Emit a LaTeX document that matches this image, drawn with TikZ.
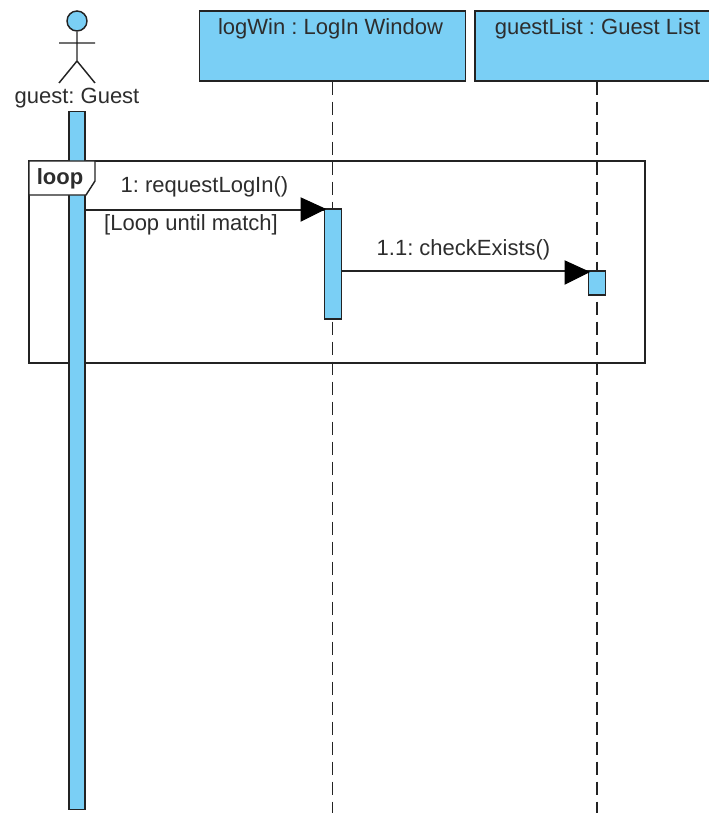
\documentclass[tikz,border=0pt]{standalone}
\usepackage{fontspec}
\setmainfont{Liberation Sans}
\frenchspacing
\definecolor{lifeblue}{RGB}{122,207,245}
\definecolor{lbltext}{RGB}{45,45,45}
\definecolor{linedark}{RGB}{35,35,35}
\tikzset{
  box/.style={draw=linedark,fill=lifeblue,line width=1.1pt,inner sep=0pt},
  lifeline/.style={draw=linedark,dash pattern=on 10pt off 5pt,line width=1.1pt},
  lbl/.style={inner sep=0pt,text=lbltext,font=\fontsize{16.5}{18}\selectfont},
  msg/.style={draw=linedark,line width=1.1pt},
  tip/.style={fill=black,draw=black,line width=0.75pt}
}
\begin{document}
\begin{tikzpicture}[x=0.75pt,y=0.75pt,yscale=-1,xscale=1]
\useasboundingbox (0,0) rectangle (709,813);
% actor
\node (head) [circle,box,minimum size=15pt] at (77,21) {};
\coordinate (hip) at (77,61);
\coordinate (armL) at (59,43);
\coordinate (armR) at (95,43);
\coordinate (legL) at (59,83);
\coordinate (legR) at (95,83);
\draw [msg] (head) -- (hip) (armL) -- (armR) (legL) -- (hip) -- (legR);
\node (guestlbl) [lbl] at (77,98.5) {guest: Guest};
% heads
\node (logwin) [box,minimum width=199.5pt,minimum height=52.5pt] at (332.5,46) {};
\node (guestlist) [box,minimum width=183pt,minimum height=52.5pt] at (597,46) {};
\node (logwinlbl) [lbl] at (330.5,28.5) {logWin : LogIn Window};
\node (guestlistlbl) [lbl] at (597.5,28.5) {guestList : Guest List};
% lifelines
\coordinate (logend) at (332.5,813);
\coordinate (listend) at (597,813);
\draw [lifeline] (logwin.south) -- (logend);
\draw [lifeline] (guestlist.south) -- (listend);
% loop frame
\node (frame) [draw=linedark,line width=1.1pt,minimum width=462pt,minimum height=151.5pt,inner sep=0pt] at (337,262) {};
% bars
\node (guestbar) [box,minimum width=12pt,minimum height=523.5pt] at (77,460.5) {};
\node (logbar) [box,minimum width=12.75pt,minimum height=82.5pt] at (333,264) {};
\node (listbar) [box,minimum width=12.75pt,minimum height=18pt] at (597,283) {};
% loop tag
\coordinate (t1) at (29,161);
\coordinate (t2) at (95,161);
\coordinate (t3) at (95,181);
\coordinate (t4) at (86,195);
\coordinate (t5) at (29,195);
\draw [msg,fill=white] (t1) -- (t2) -- (t3) -- (t4) -- (t5) -- cycle;
\node (looplbl) [lbl,font=\fontsize{16.5}{18}\selectfont\bfseries] at (60,178.5) {loop};
% messages
\draw [msg] (guestbar.east |- 0,210) -- (logbar.west |- 0,210);
\draw [msg] (logbar.east |- 0,271) -- (listbar.west |- 0,271);
\coordinate (a1) at (325,209);
\coordinate (a2) at (301,198);
\coordinate (a3) at (301,221);
\draw [tip] (a1) -- (a2) -- (a3) -- cycle;
\coordinate (b1) at (589,272);
\coordinate (b2) at (565,261);
\coordinate (b3) at (565,284);
\draw [tip] (b1) -- (b2) -- (b3) -- cycle;
\node (reqlbl) [lbl] at (204.5,186.5) {1: requestLogIn()};
\node (guardlbl) [lbl] at (191,224.5) {[Loop until match]};
\node (checklbl) [lbl] at (463.5,249.5) {1.1: checkExists()};
\end{tikzpicture}
\end{document}
